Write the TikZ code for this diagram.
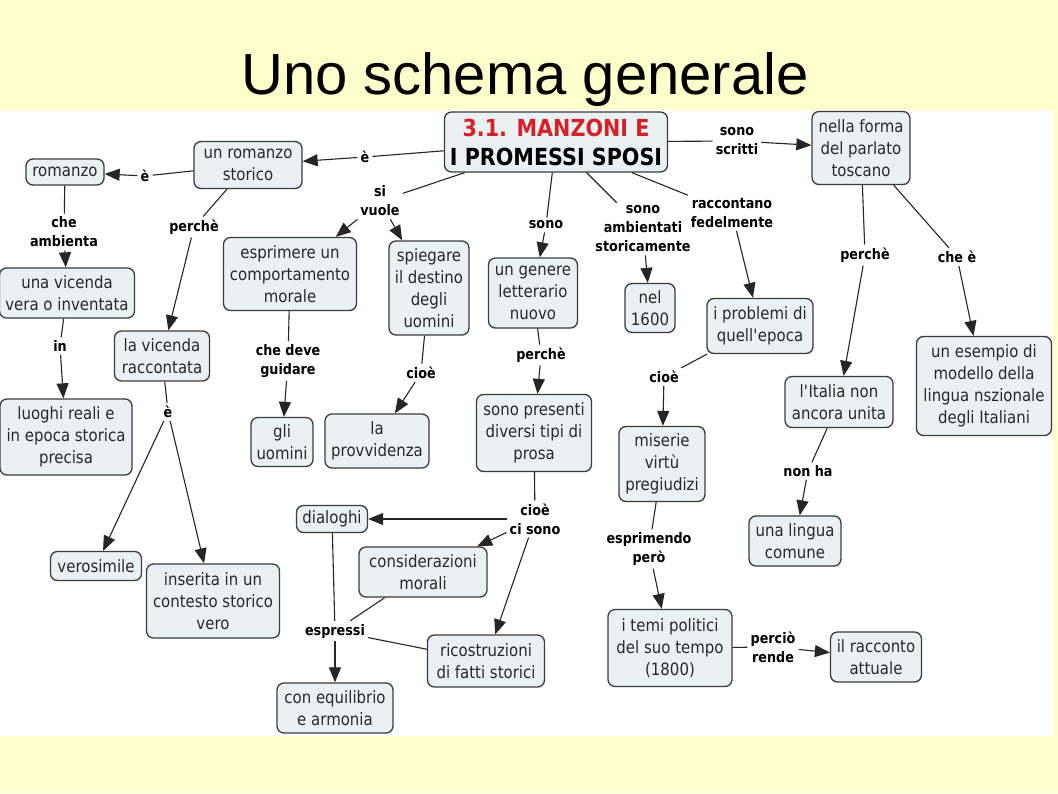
\documentclass[tikz,border=0pt]{standalone}
\usepackage{fontspec}
\setmainfont{DejaVu Sans}
\newfontfamily\nodefam[FakeStretch=0.88]{DejaVu Sans}
\newfontfamily\titlefam{Liberation Sans}
\usetikzlibrary{arrows.meta}
\definecolor{bgyellow}{RGB}{255,255,204}
\definecolor{boxfill}{RGB}{233,241,242}
\definecolor{boxline}{RGB}{60,60,60}
\definecolor{txt}{RGB}{40,40,40}
\definecolor{mred}{RGB}{214,32,40}
\tikzset{
  box/.style={draw=boxline, fill=boxfill, rounded corners=7pt, line width=1.3pt, align=center,
    font=\nodefam\fontsize{17}{22}\selectfont, text=txt, inner sep=2pt},
  lab/.style={font=\nodefam\bfseries\fontsize{14.5}{19}\selectfont, align=center, inner sep=3pt, text=black},
  con/.style={line width=1.1pt, draw=black!85},
  arr/.style={con, -{Triangle[length=15pt,width=12pt]}},
  sz/.style 2 args={minimum width=#1pt, minimum height=#2pt}
}
\begin{document}
\begin{tikzpicture}[x=1pt,y=-1pt]
\useasboundingbox (0,0) rectangle (1058,793);
\fill[bgyellow] (0,0) rectangle (1058,793);
\fill[white] (0,110) rectangle (1053,736);
\node[font=\titlefam\fontsize{58}{64}\selectfont] (title) at (525,80) {Uno schema generale};

% concept nodes
\node[box, sz={223}{60}, font=\nodefam\bfseries\fontsize{23.5}{29}\selectfont, text=black] (main) at (556,142) {\textcolor{mred}{3.1. MANZONI E}\\I PROMESSI SPOSI};
\node[box, sz={108}{47}] (rs) at (248,165) {un romanzo\\storico};
\node[box, sz={78}{26}] (rom) at (65,172) {romanzo};
\node[box, sz={98}{73}] (nf) at (861,148) {nella forma\\del parlato\\toscano};
\node[box, sz={135}{50}] (uv) at (67,293) {una vicenda\\vera o inventata};
\node[box, sz={133}{73}] (esp) at (290,274) {esprimere un\\comportamento\\morale};
\node[box, sz={80}{94}] (spi) at (429,288) {spiegare\\il destino\\degli\\uomini};
\node[box, sz={89}{70}] (gen) at (533,293) {un genere\\letterario\\nuovo};
\node[box, sz={50}{49}] (n1600) at (650,308) {nel\\1600};
\node[box, sz={106}{55}] (prob) at (760,326) {i problemi di\\quell\textquotesingle epoca};
\node[box, sz={135}{99}] (ese) at (984,386) {un esempio di\\modello della\\lingua nszionale\\degli Italiani};
\node[box, sz={95}{50}] (lvr) at (162,356) {la vicenda\\raccontata};
\node[box, sz={132}{76}] (luo) at (66,437) {luoghi reali e\\in epoca storica\\precisa};
\node[box, sz={62}{49}] (gli) at (282,442) {gli\\uomini};
\node[box, sz={104}{54}] (prov) at (377,441) {la\\provvidenza};
\node[box, sz={115}{77}] (pres) at (534,433) {sono presenti\\diversi tipi di\\prosa};
\node[box, sz={86}{75}] (mis) at (662,464) {miserie\\virtù\\pregiudizi};
\node[box, sz={108}{51}] (ita) at (839,402) {l\textquotesingle Italia non\\ancora unita};
\node[box, sz={92}{50}] (ling) at (795,541) {una lingua\\comune};
\node[box, sz={91}{29}] (ver) at (96,566) {verosimile};
\node[box, sz={133}{74}] (ins) at (213,601) {inserita in un\\contesto storico\\vero};
\node[box, sz={71}{27}] (dia) at (332,519) {dialoghi};
\node[box, sz={128}{50}] (cons) at (423,572) {considerazioni\\morali};
\node[box, sz={117}{52}] (ric) at (486,661) {ricostruzioni\\di fatti storici};
\node[box, sz={116}{50}] (equ) at (335,708) {con equilibrio\\e armonia};
\node[box, sz={124}{77}] (temi) at (670,648) {i temi politici\\del suo tempo\\(1800)};
\node[box, sz={91}{50}] (racc) at (876,657) {il racconto\\attuale};

% linking labels
\node[lab] (le1) at (365,157) {è};
\node[lab] (le2) at (145,176) {è};
\node[lab] (lss) at (737,141) {sono\\scritti};
\node[lab] (lca) at (64,232) {che\\ambienta};
\node[lab] (lp1) at (194,227) {perchè};
\node[lab] (lsv) at (380,201) {si\\vuole};
\node[lab] (lsono) at (546,225) {sono};
\node[lab] (lamb) at (643,229) {sono\\ambientati\\storicamente};
\node[lab] (lrf) at (732,213) {raccontano\\fedelmente};
\node[lab] (lp2) at (865,255) {perchè};
\node[lab] (lche) at (957,257) {che è};
\node[lab] (lpin) at (60,346) {in};
\node[lab] (le3) at (168,412) {è};
\node[lab] (lcdg) at (288,361) {che deve\\guidare};
\node[lab] (lc1) at (421,373) {cioè};
\node[lab] (lp3) at (541,355) {perchè};
\node[lab] (lc2) at (664,377) {cioè};
\node[lab] (lnh) at (808,471) {non ha};
\node[lab] (lccs) at (535,519) {cioè\\ci sono};
\node[lab] (lep) at (649,549) {esprimendo\\però};
\node[lab] (lespr) at (335,631) {espressi};
\node[lab] (lpr) at (773,647) {perciò\\rende};

% connectors
\draw[con] (main) -- (le1); \draw[arr] (le1) -- (rs);
\draw[con] (rs) -- (le2); \draw[arr] (le2) -- (rom);
\draw[con] (main) -- (lss); \draw[arr] (lss) -- (nf);
\draw[con] (rom) -- (lca); \draw[arr] (lca) -- (uv);
\draw[con] (rs) -- (lp1); \draw[arr] (lp1) -- (lvr);
\draw[con] (main) -- (lsv); \draw[arr] (lsv) -- (esp); \draw[arr] (lsv) -- (spi);
\draw[con] (main) -- (lsono); \draw[arr] (lsono) -- (gen);
\draw[con] (main) -- (lamb); \draw[arr] (lamb) -- (n1600);
\draw[con] (main) -- (lrf); \draw[arr] (lrf) -- (prob);
\draw[con] (nf) -- (lp2); \draw[arr] (lp2) -- (ita);
\draw[con] (nf) -- (lche); \draw[arr] (lche) -- (ese);
\draw[con] (uv) -- (lpin); \draw[arr] (lpin) -- (luo);
\draw[con] (lvr) -- (le3); \draw[arr] (le3) -- (ver); \draw[arr] (le3) -- (ins);
\draw[con] (esp) -- (lcdg); \draw[arr] (lcdg) -- (gli);
\draw[con] (spi) -- (lc1); \draw[arr] (lc1) -- (prov);
\draw[con] (gen) -- (lp3); \draw[arr] (lp3) -- (pres);
\draw[con] (prob) -- (lc2); \draw[arr] (lc2) -- (mis);
\draw[con] (ita) -- (lnh); \draw[arr] (lnh) -- (ling);
\draw[con] (pres) -- (lccs); \draw[arr] (lccs) -- (dia); \draw[arr] (lccs) -- (cons); \draw[arr] (lccs) -- (ric);
\draw[con] (mis) -- (lep); \draw[arr] (lep) -- (temi);
\draw[con] (dia) -- (lespr); \draw[con] (cons) -- (lespr); \draw[con] (ric) -- (lespr); \draw[arr] (lespr) -- (equ);
\draw[con] (temi) -- (lpr); \draw[arr] (lpr) -- (racc);
\end{tikzpicture}
\end{document}
